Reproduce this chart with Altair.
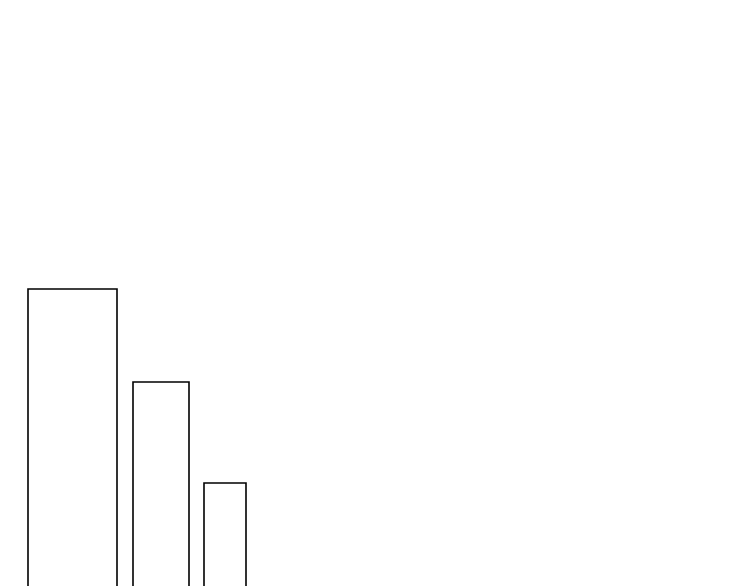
import altair as alt
import pandas as pd

# Bar extents (x start / x end) and heights
x_start = [20, 125, 196]
x_end = [109, 181, 238]
heights = [419, 326, 225]
base = [0, 0, 0]

df = pd.DataFrame({"x": x_start, "x2": x_end, "y": heights, "y0": base})

chart = alt.Chart(df).mark_rect(
    fill="white", stroke="black", strokeWidth=1.6
).encode(
    x=alt.X("x:Q", scale=alt.Scale(domain=[0, 734], nice=False, zero=False), axis=None),
    x2="x2:Q",
    y=alt.Y("y:Q", scale=alt.Scale(domain=[0, 700], nice=False), axis=None),
    y2="y0:Q",
).properties(width=734, height=700, padding=0).configure_view(stroke=None)

chart.save("out.html", embed_options={"renderer": "svg", "actions": False})
